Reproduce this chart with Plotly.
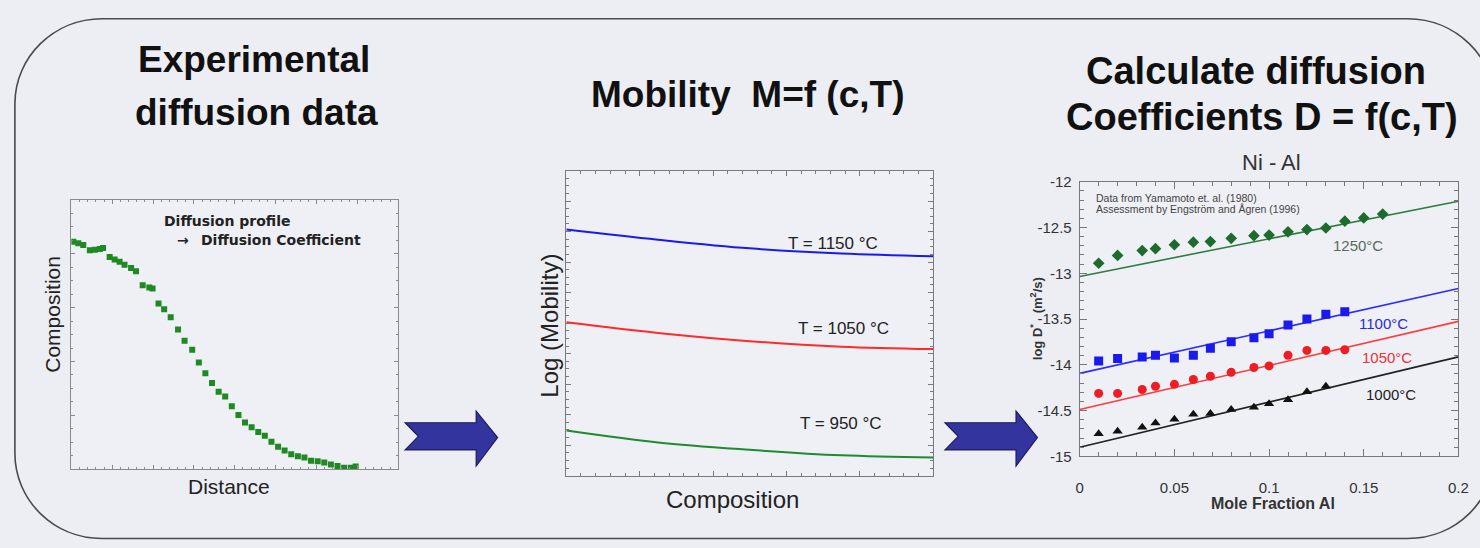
import plotly.graph_objects as go

W, H = 1480, 548


def px(x):
    return x / W


def py(y):
    return 1 - y / H


# ---------------- data ----------------
# Panel 1: experimental diffusion profile (distance in arbitrary units, composition in %)
dist = [2, 7, 12, 18.7, 23.7, 28.7, 32, 38.7, 43.7, 48.7, 53.7, 60.3, 65.3, 72, 78.7, 82,
        88, 93.7, 100.3, 107.7, 114.3, 122, 128.7, 135.3, 142, 148.7, 155.3, 162, 168.7,
        175.3, 182, 188.7, 195.3, 202, 208.7, 215.3, 222, 228.7, 235.3, 242, 248.7, 255.3,
        262, 268.7, 275.3, 282, 287]
comp = [84.5, 83.9, 83.3, 81.3, 81.5, 81.8, 82.1, 78.8, 77.9, 77.0, 75.9, 74.7, 73.5, 68.3,
        67.5, 67.1, 61.5, 59.4, 56.4, 51.9, 47.7, 44.4, 39.6, 35.6, 32.0, 28.8, 27.0, 23.4,
        20.1, 17.4, 15.6, 13.8, 12.4, 10.2, 8.4, 7.0, 5.6, 4.8, 4.4, 3.2, 3.0, 2.5, 1.8, 1.2,
        0.6, 0.6, 1.0]

# Panel 2: log mobility vs composition
mob_x = [0, 0.25, 0.5, 0.75, 1.0]
logM_1150 = [8.07, 7.735, 7.45, 7.28, 7.19]
logM_1050 = [5.03, 4.68, 4.41, 4.23, 4.15]
logM_950 = [1.48, 1.09, 0.85, 0.67, 0.60]
mob_labels = ["T = 1150 °C", "T = 1050 °C", "T = 950 °C"]

# Panel 3: Ni-Al diffusion coefficients
xAl = [0.01, 0.02, 0.033, 0.04, 0.05, 0.06, 0.069, 0.08, 0.092, 0.1, 0.11, 0.12, 0.13,
       0.14, 0.15, 0.16]
D1250 = [-12.89, -12.805, -12.752, -12.731, -12.688, -12.66, -12.653, -12.618, -12.589,
         -12.582, -12.547, -12.522, -12.505, -12.43, -12.395, -12.353]
D1100 = [-13.959, -13.931, -13.913, -13.895, -13.924, -13.895, -13.818, -13.747, -13.705,
         -13.659, -13.564, -13.5, -13.447, -13.419]
D1050 = [-14.312, -14.312, -14.269, -14.234, -14.213, -14.16, -14.125, -14.082, -14.029,
         -14.012, -13.895, -13.842, -13.842, -13.835]
D1000 = [-14.753, -14.725, -14.682, -14.636, -14.594, -14.541, -14.531, -14.488, -14.464,
         -14.425, -14.382, -14.294, -14.234]
fit_x = [0, 0.2]
fit1250 = [-13.034, -12.212]
fit1100 = [-14.093, -13.165]
fit1050 = [-14.488, -13.525]
fit1000 = [-14.901, -13.913]
temp_labels = ["1250°C", "1100°C", "1050°C", "1000°C"]
x3_ticks = [0, 0.05, 0.1, 0.15, 0.2]
x3_text = ["0", "0.05", "0.1", "0.15", "0.2"]
y3_ticks = [-15, -14.5, -14, -13.5, -13, -12.5, -12]
y3_text = ["-15", "-14.5", "-14", "-13.5", "-13", "-12.5", "-12"]

# ---------------- figure ----------------
BG = "#eceef3"
PLOTBG = "#eef0f5"
FONT = "Liberation Sans, Arial, sans-serif"

fig = go.Figure()

# panel 1
fig.add_trace(go.Scatter(x=dist, y=comp, mode="markers", xaxis="x", yaxis="y",
                         marker=dict(symbol="square", size=6, color="#1f8a22",
                                     line=dict(width=0))))
# panel 2
for vals, col in [(logM_1150, "#1a1aee"), (logM_1050, "#ff2a2a"), (logM_950, "#1f8a2e")]:
    fig.add_trace(go.Scatter(x=mob_x, y=vals, mode="lines", xaxis="x2", yaxis="y2",
                             line=dict(color=col, width=2, shape="spline")))
# panel 3 fits
for vals, col in [(fit1250, "#2f7d3f"), (fit1100, "#2b2bff"), (fit1050, "#ff3b3b"),
                  (fit1000, "#222222")]:
    fig.add_trace(go.Scatter(x=fit_x, y=vals, mode="lines", xaxis="x3", yaxis="y3",
                             line=dict(color=col, width=1.6)))
# panel 3 data
fig.add_trace(go.Scatter(x=xAl[:len(D1250)], y=D1250, mode="markers", xaxis="x3", yaxis="y3",
                         marker=dict(symbol="diamond", size=9, color="#1d6b2d")))
fig.add_trace(go.Scatter(x=xAl[:len(D1100)], y=D1100, mode="markers", xaxis="x3", yaxis="y3",
                         marker=dict(symbol="square", size=9, color="#1a1aee")))
fig.add_trace(go.Scatter(x=xAl[:len(D1050)], y=D1050, mode="markers", xaxis="x3", yaxis="y3",
                         marker=dict(symbol="circle", size=9, color="#ee1c24")))
fig.add_trace(go.Scatter(x=xAl[:len(D1000)], y=D1000, mode="markers", xaxis="x3", yaxis="y3",
                         marker=dict(symbol="triangle-up", size=9, color="#111111")))

frame = dict(showgrid=False, zeroline=False, showline=True, mirror="ticks", ticks="inside")

fig.update_layout(
    width=W, height=H, autosize=False,
    margin=dict(l=0, r=0, t=0, b=0),
    paper_bgcolor=BG, plot_bgcolor=PLOTBG,
    showlegend=False,
    font=dict(family=FONT, color="#222"),
    xaxis=dict(domain=[px(68), px(398)], range=[0, 330], anchor="y", showticklabels=False,
               linecolor="#8a8a8a", linewidth=1, tickcolor="#8a8a8a", ticklen=4, dtick=41.25,
               minor=dict(dtick=8.25, ticklen=2, tickcolor="#8a8a8a", ticks="inside"), **frame),
    yaxis=dict(domain=[py(475), py(197)], range=[0, 100], anchor="x", showticklabels=False,
               linecolor="#8a8a8a", linewidth=1, tickcolor="#8a8a8a", ticklen=4, dtick=20,
               minor=dict(dtick=5, ticklen=2, tickcolor="#8a8a8a", ticks="inside"), **frame),
    xaxis2=dict(domain=[px(567.7), px(938)], range=[0, 1], anchor="y2", showticklabels=False,
                linecolor="#7a7a7a", linewidth=1, tickcolor="#7a7a7a", ticklen=5, dtick=0.2,
                minor=dict(dtick=0.04, ticklen=3, tickcolor="#7a7a7a", ticks="inside"), **frame),
    yaxis2=dict(domain=[py(481.7), py(166.7)], range=[0, 10], anchor="x2", showticklabels=False,
                linecolor="#7a7a7a", linewidth=1, tickcolor="#7a7a7a", ticklen=5, dtick=1,
                minor=dict(dtick=0.25, ticklen=3, tickcolor="#7a7a7a", ticks="inside"), **frame),
    xaxis3=dict(domain=[px(1086), px(1468.3)], range=[0, 0.2], anchor="y3",
                tickvals=x3_ticks, ticktext=x3_text, ticklabelstandoff=18,
                tickfont=dict(size=15, color="#333"),
                linecolor="#777", linewidth=1, tickcolor="#777", ticklen=7,
                minor=dict(dtick=0.01, ticklen=4, tickcolor="#777", ticks="inside"), **frame),
    yaxis3=dict(domain=[py(461.7), py(178.3)], range=[-15, -12], anchor="x3",
                tickvals=y3_ticks, ticktext=y3_text, ticklabelstandoff=4,
                tickfont=dict(size=15, color="#333"),
                linecolor="#777", linewidth=1, tickcolor="#777", ticklen=7,
                minor=dict(dtick=0.1, ticklen=4, tickcolor="#777", ticks="inside"), **frame),
)


# ---------------- decoration shapes ----------------
def rounded_box(x0, y0, x1, y1, r):
    k = 0.5523 * r
    pts = [
        ("M", [(x0 + r, y0)]),
        ("L", [(x1 - r, y0)]),
        ("C", [(x1 - r + k, y0), (x1, y0 + r - k), (x1, y0 + r)]),
        ("L", [(x1, y1 - r)]),
        ("C", [(x1, y1 - r + k), (x1 - r + k, y1), (x1 - r, y1)]),
        ("L", [(x0 + r, y1)]),
        ("C", [(x0 + r - k, y1), (x0, y1 - r + k), (x0, y1 - r)]),
        ("L", [(x0, y0 + r)]),
        ("C", [(x0, y0 + r - k), (x0 + r - k, y0), (x0 + r, y0)]),
    ]
    s = ""
    for cmd, ps in pts:
        s += cmd + " " + " ".join(f"{px(a):.5f},{py(b):.5f}" for a, b in ps) + " "
    return s + "Z"


def arrow_path(x0):
    pts = [(0, 427), (71.7, 427), (71.7, 415), (93.3, 442.3), (71.7, 471.7),
           (71.7, 455), (0, 455), (13.3, 441)]
    s = "M " + " L ".join(f"{px(x0 + a):.5f},{py(b):.5f}" for a, b in pts)
    return s + " Z"


shapes = [
    dict(type="path", xref="paper", yref="paper", path=rounded_box(11, 10, 1505, 546.5, 88),
         line=dict(color="#4a4a4a", width=1.6), fillcolor="rgba(0,0,0,0)", layer="below"),
    dict(type="path", xref="paper", yref="paper", path=arrow_path(405),
         line=dict(color="#1c1c5e", width=1.2), fillcolor="#34349e", layer="above"),
    dict(type="path", xref="paper", yref="paper", path=arrow_path(950),
         line=dict(color="#1c1c5e", width=1.2), fillcolor="#34349e", layer="above"),
]
fig.update_layout(shapes=shapes)

# ---------------- text ----------------
ann = []


def text(x, y, s, size, color="#111", bold=False, family=FONT, angle=0, xanchor="center"):
    ann.append(dict(x=px(x), y=py(y), xref="paper", yref="paper", text=s, showarrow=False,
                    xanchor=xanchor, yanchor="middle", textangle=angle,
                    font=dict(size=size, color=color, family=family,
                              weight="bold" if bold else "normal")))


# titles
text(252.5, 52, "Experimental", 37, bold=True)
text(255, 107, "diffusion data", 37, bold=True)
text(751, 88, "Mobility\u00a0\u00a0M=f (c,T)", 37, bold=True)
text(1264, 64.5, "Calculate diffusion", 38, bold=True)
text(1270, 111.5, "Coefficients D = f(c,T)", 38, bold=True)

# panel 1
DV = "DejaVu Sans, Verdana, sans-serif"
text(160, 218.5, "Diffusion profile", 14, color="#222", bold=True, family=DV, xanchor="left")
text(173, 238.5, "→", 14, color="#222", bold=True, family=DV, xanchor="left")
text(196.5, 238.5, "Diffusion Coefficient", 14, color="#222", bold=True, family=DV, xanchor="left")
text(49, 315, "Composition", 21, color="#222", angle=-90)
text(227.5, 493, "Distance", 21, color="#222")

# panel 2
for lab, (lx, ly) in zip(mob_labels, [(836.7, 241.7), (848, 330), (845, 428)]):
    text(lx, ly, lab, 17, color="#222")
text(551, 327, "Log (Mobility)", 24, color="#222", angle=-90)
text(735, 506, "Composition", 24, color="#222")

# panel 3
text(1280, 158, "Ni - Al", 22, color="#333")
text(1100, 195, "Data from Yamamoto et. al. (1980)", 10.5, color="#444", xanchor="left")
text(1100, 206, "Assessment by Engström and Ågren (1996)", 10.5, color="#444", xanchor="left")
for lab, (lx, ly), col in zip(temp_labels,
                               [(1366.7, 244.3), (1393, 325), (1396, 359.3), (1400, 398.3)],
                               ["#5b6b5b", "#2a2ad8", "#e8323c", "#222222"]):
    text(lx, ly, lab, 15, color=col)
text(1281, 510.7, "Mole Fraction Al", 16, color="#333", bold=True)
text(1042, 320, "log D<sup>*</sup>\u00a0\u00a0\u00a0(m<sup>2</sup>/s)", 13, color="#333",
     bold=True, angle=-90)

fig.update_layout(annotations=ann)

fig.write_html("out.html")
